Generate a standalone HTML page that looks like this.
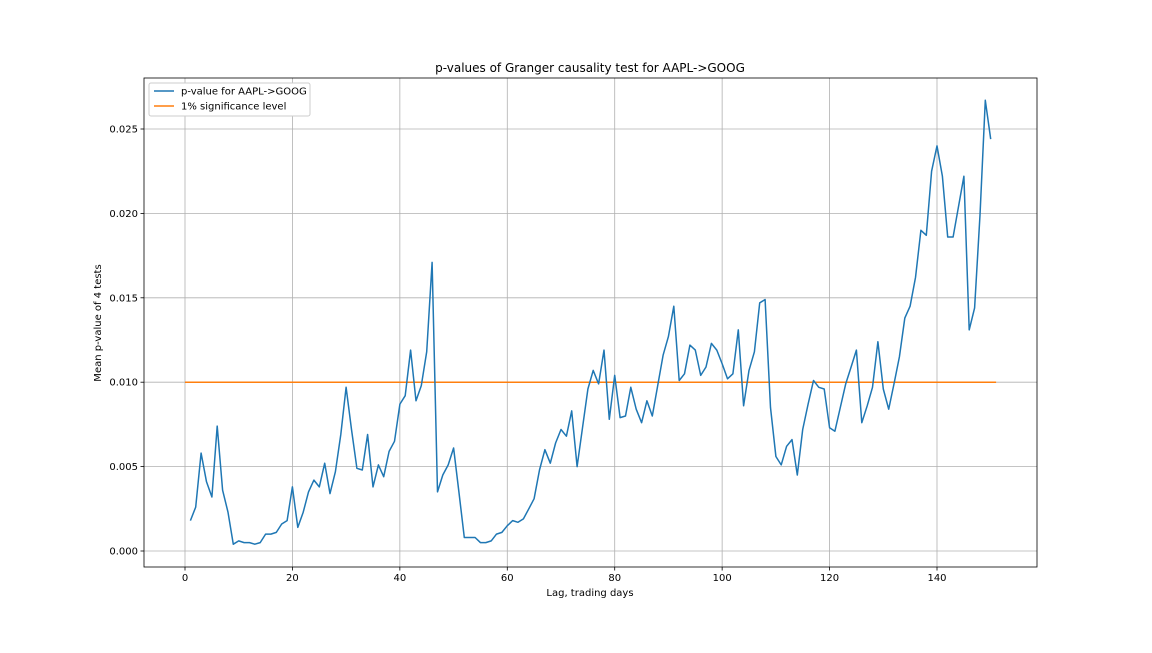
<!DOCTYPE html>
<html><head><meta charset="utf-8"><style>
body{margin:0;background:#fff;}
svg text{font-family:"DejaVu Sans","Liberation Sans",sans-serif;fill:#000;}
</style></head><body>
<svg id="chart" width="1152" height="648" xmlns="http://www.w3.org/2000/svg">
<rect width="1152" height="648" fill="#fff"/>
<g id="grid"></g>
<g id="axes"></g>
<g id="series"></g>
<text x="590" y="72" font-size="12" text-anchor="middle">p-values of Granger causality test for AAPL-&gt;GOOG</text>
<text x="590" y="596" font-size="10" text-anchor="middle">Lag, trading days</text>
<text x="0" y="0" font-size="10" text-anchor="middle" transform="translate(101,323) rotate(-90)">Mean p-value of 4 tests</text>
<g>
<rect x="149" y="83" width="161" height="33" rx="2" fill="#fff" stroke="#ccc"/>
<line x1="154" y1="91" x2="174" y2="91" stroke="#1f77b4" stroke-width="1.5"/>
<text x="181" y="94.5" font-size="10">p-value for AAPL-&gt;GOOG</text>
<line x1="154" y1="106" x2="174" y2="106" stroke="#ff7f0e" stroke-width="1.5"/>
<text x="181" y="109.5" font-size="10">1% significance level</text>
</g>
</svg>
<script>
const pvalues=[0.0018,0.0026,0.0058,0.0041,0.0032,0.0074,0.0036,0.0023,0.0004,0.0006,0.0005,0.0005,0.0004,0.0005,0.0010,0.0010,0.0011,0.0016,0.0018,0.0038,0.0014,0.0023,0.0035,0.0042,0.0038,0.0052,0.0034,0.0047,0.0069,0.0097,0.0072,0.0049,0.0048,0.0069,0.0038,0.0051,0.0044,0.0059,0.0065,0.0087,0.0092,0.0119,0.0089,0.0098,0.0118,0.0171,0.0035,0.0045,0.0051,0.0061,0.0035,0.0008,0.0008,0.0008,0.0005,0.0005,0.0006,0.0010,0.0011,0.0015,0.0018,0.0017,0.0019,0.0025,0.0031,0.0048,0.0060,0.0052,0.0064,0.0072,0.0068,0.0083,0.0050,0.0073,0.0096,0.0107,0.0099,0.0119,0.0078,0.0104,0.0079,0.0080,0.0097,0.0084,0.0076,0.0089,0.0080,0.0098,0.0116,0.0127,0.0145,0.0101,0.0105,0.0122,0.0119,0.0104,0.0109,0.0123,0.0119,0.0111,0.0102,0.0105,0.0131,0.0086,0.0107,0.0118,0.0147,0.0149,0.0085,0.0056,0.0051,0.0062,0.0066,0.0045,0.0072,0.0087,0.0101,0.0097,0.0096,0.0073,0.0071,0.0085,0.0099,0.0109,0.0119,0.0076,0.0086,0.0097,0.0124,0.0096,0.0084,0.0099,0.0115,0.0138,0.0145,0.0162,0.0190,0.0187,0.0225,0.0240,0.0222,0.0186,0.0186,0.0204,0.0222,0.0131,0.0144,0.0199,0.0267,0.0244];
const sigLevel=0.01;
const sigRange=[0,151];
const xTicks=[0,20,40,60,80,100,120,140];
const yTicks=[0,0.005,0.01,0.015,0.02,0.025];
const yTickLabels=["0.000","0.005","0.010","0.015","0.020","0.025"];

const L=144,R=1037,T=78,B=567;
const xs=v=>185+(v-0)*(937-185)/140;
const ys=v=>551-v*(551-129)/0.025;
const NS="http://www.w3.org/2000/svg";
function mk(tag,attrs,parent){const e=document.createElementNS(NS,tag);for(const k in attrs)e.setAttribute(k,attrs[k]);parent.appendChild(e);return e;}
const grid=document.getElementById('grid'),axes=document.getElementById('axes'),series=document.getElementById('series');
xTicks.forEach(t=>{
  const x=xs(t);
  const g=mk('line',{x1:x,x2:x,y1:T,y2:B,stroke:'#b0b0b0','stroke-width':0.8},grid);
  
  
  const tk=mk('line',{x1:x,x2:x,y1:B,y2:B+3.5,stroke:'#000','stroke-width':0.8},axes);
  
  
  const tx=mk('text',{x:x,y:B+14,'font-size':10,'text-anchor':'middle'},axes);
  tx.textContent=t;
  
  
});
yTicks.forEach((t,i)=>{
  const y=ys(t);
  const g=mk('line',{x1:L,x2:R,y1:y,y2:y,stroke:'#b0b0b0','stroke-width':0.8},grid);
  
  
  const tk=mk('line',{x1:L-3.5,x2:L,y1:y,y2:y,stroke:'#000','stroke-width':0.8},axes);
  
  
  const tx=mk('text',{x:L-6,y:y+3.5,'font-size':10,'text-anchor':'end'},axes);
  tx.textContent=yTickLabels[i];
  
  
});
const frame=mk('rect',{x:L,y:T,width:R-L,height:B-T,fill:'none',stroke:'#000','stroke-width':0.8},axes);


const sig=mk('line',{x1:xs(sigRange[0]),x2:xs(sigRange[1]),y1:ys(sigLevel),y2:ys(sigLevel),stroke:'#ff7f0e','stroke-width':1.5},series);


const pts=pvalues.map((v,i)=>xs(i+1).toFixed(1)+','+ys(v).toFixed(1)).join(' ');
const pl=mk('polyline',{points:pts,fill:'none',stroke:'#1f77b4','stroke-width':1.5,'stroke-linejoin':'round'},series);


</script>
</body></html>
